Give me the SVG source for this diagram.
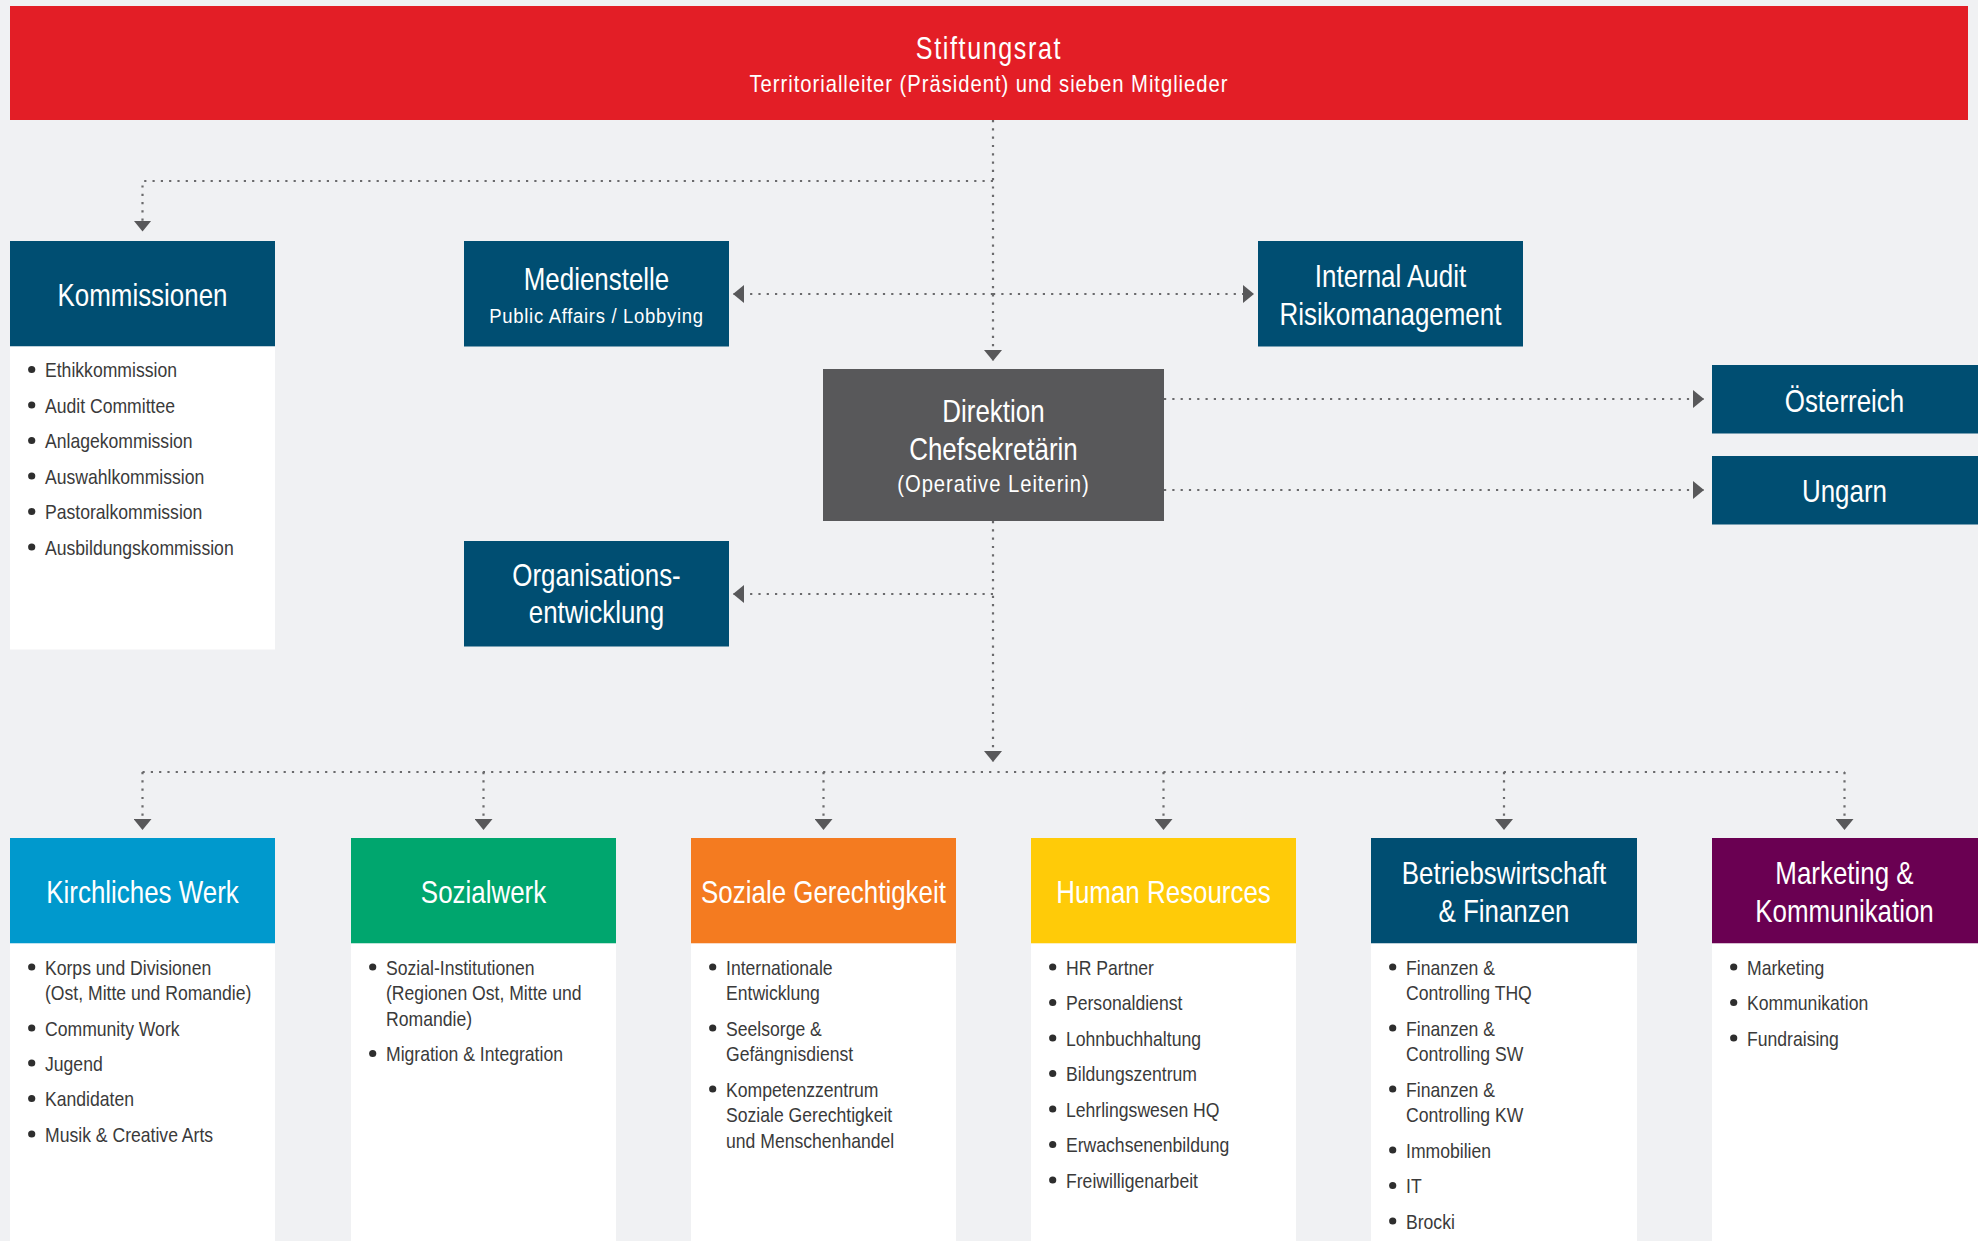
<svg xmlns="http://www.w3.org/2000/svg" width="1978" height="1241" viewBox="0 0 1978 1241">
<defs>
<style>
text{font-family:"Liberation Sans",Arial,sans-serif;}
.t{fill:#fff;font-size:32px;text-anchor:middle;}
.s{fill:#fff;font-size:23px;text-anchor:middle;letter-spacing:1.1px;}
.li{fill:#3a3a3a;font-size:20px;}
.bu{fill:#2e2e2e;}
.c{fill:none;stroke:#6a6a6c;stroke-width:2.2;stroke-dasharray:2.2 6.1;}
.ca{fill:none;stroke:#6a6a6c;stroke-width:2.2;stroke-dasharray:2.2 6.1;marker-end:url(#ah);}
.navy{fill:#004E72;}
.white{fill:#fff;}
</style>
<marker id="ah" markerUnits="userSpaceOnUse" viewBox="0 0 11 18" markerWidth="11" markerHeight="18" refX="11" refY="9" orient="auto">
<path d="M0,0 L11,9 L0,18 Z" fill="#58585A"/>
</marker>
</defs>
<rect x="0" y="0" width="1978" height="1241" fill="#F0F1F3"/>

<g id="connectors">
<path class="ca" d="M993,120 V361"/>
<path class="ca" d="M993,181 H142.5 V231.5"/>
<path class="ca" d="M993,294 H733"/>
<path class="ca" d="M993,294 H1254"/>
<path class="ca" d="M1164,399 H1704"/>
<path class="ca" d="M1164,490 H1704"/>
<path class="ca" d="M993,521 V762"/>
<path class="ca" d="M993,594 H733"/>
<path class="c" d="M142.5,772 H1844.5"/>
<path class="ca" d="M142.5,772 V830"/>
<path class="ca" d="M483.5,772 V830"/>
<path class="ca" d="M823.5,772 V830"/>
<path class="ca" d="M1163.5,772 V830"/>
<path class="ca" d="M1504,772 V830"/>
<path class="ca" d="M1844.5,772 V830"/>
</g>

<g id="stiftungsrat">
<rect x="10" y="6" width="1958" height="114" fill="#E31E26"/>
<g transform="matrix(0.81,0,0,1,187.91,0)"><text class="t" x="989" y="59" style="font-size:31px;letter-spacing:2px">Stiftungsrat</text></g>
<g transform="matrix(0.88,0,0,1,118.68,0)"><text class="s" x="989" y="92">Territorialleiter (Präsident) und sieben Mitglieder</text></g>
</g>

<g id="kommissionen">
<rect x="10" y="241" width="265" height="105.5" class="navy"/>
<rect x="10" y="346.5" width="265" height="303" class="white"/>
<g transform="matrix(0.81,0,0,1,27.075,0)"><text class="t" x="142.5" y="306.5">Kommissionen</text></g>
<circle class="bu" cx="31.7" cy="369.5" r="3.6"/>
<circle class="bu" cx="31.7" cy="405" r="3.6"/>
<circle class="bu" cx="31.7" cy="440.5" r="3.6"/>
<circle class="bu" cx="31.7" cy="476" r="3.6"/>
<circle class="bu" cx="31.7" cy="511.5" r="3.6"/>
<circle class="bu" cx="31.7" cy="547" r="3.6"/>
<g transform="matrix(0.88,0,0,1,5.4,0)">
<text class="li" x="45" y="377.5">Ethikkommission</text>
<text class="li" x="45" y="413">Audit Committee</text>
<text class="li" x="45" y="448.5">Anlagekommission</text>
<text class="li" x="45" y="484">Auswahlkommission</text>
<text class="li" x="45" y="519.5">Pastoralkommission</text>
<text class="li" x="45" y="555">Ausbildungskommission</text>
</g>
</g>

<g id="medienstelle">
<rect x="464" y="241" width="265" height="105.5" class="navy"/>
<g transform="matrix(0.81,0,0,1,113.335,0)"><text class="t" x="596.5" y="290.5">Medienstelle</text></g>
<g transform="matrix(0.88,0,0,1,71.58,0)"><text class="s" x="596.5" y="323" style="font-size:21px;letter-spacing:0.8px">Public Affairs / Lobbying</text></g>
</g>

<g id="internal-audit">
<rect x="1258" y="241" width="265" height="105.5" class="navy"/>
<g transform="matrix(0.81,0,0,1,264.195,0)">
<text class="t" x="1390.5" y="287.5">Internal Audit</text>
<text class="t" x="1390.5" y="325.5">Risikomanagement</text>
</g>
</g>

<g id="direktion">
<rect x="823" y="369" width="341" height="152" fill="#58585A"/>
<g transform="matrix(0.81,0,0,1,188.765,0)">
<text class="t" x="993.5" y="422">Direktion</text>
<text class="t" x="993.5" y="460">Chefsekretärin</text>
</g>
<g transform="matrix(0.88,0,0,1,119.22,0)"><text class="s" x="993.5" y="492.5">(Operative Leiterin)</text></g>
</g>

<g id="oesterreich">
<rect x="1712" y="365" width="266" height="68.5" class="navy"/>
<g transform="matrix(0.81,0,0,1,350.455,0)"><text class="t" x="1844.5" y="412.5">Österreich</text></g>
</g>

<g id="ungarn">
<rect x="1712" y="456" width="266" height="68.5" class="navy"/>
<g transform="matrix(0.81,0,0,1,350.455,0)"><text class="t" x="1844.5" y="502">Ungarn</text></g>
</g>

<g id="organisationsentwicklung">
<rect x="464" y="541" width="265" height="105.5" class="navy"/>
<g transform="matrix(0.81,0,0,1,113.335,0)">
<text class="t" x="596.5" y="586.5">Organisations-</text>
<text class="t" x="596.5" y="623">entwicklung</text>
</g>
</g>

<g id="kirchliches-werk">
<rect x="10" y="838" width="265" height="105.5" fill="#0099CD"/>
<rect x="10" y="943.5" width="265" height="297.5" class="white"/>
<g transform="matrix(0.81,0,0,1,27.075,0)"><text class="t" x="142.5" y="903.5">Kirchliches Werk</text></g>
<circle class="bu" cx="31.7" cy="967" r="3.6"/>
<circle class="bu" cx="31.7" cy="1028" r="3.6"/>
<circle class="bu" cx="31.7" cy="1063" r="3.6"/>
<circle class="bu" cx="31.7" cy="1098.5" r="3.6"/>
<circle class="bu" cx="31.7" cy="1134" r="3.6"/>
<g transform="matrix(0.88,0,0,1,5.4,0)">
<text class="li" x="45" y="975">Korps und Divisionen</text>
<text class="li" x="45" y="1000.5">(Ost, Mitte und Romandie)</text>
<text class="li" x="45" y="1036">Community Work</text>
<text class="li" x="45" y="1071">Jugend</text>
<text class="li" x="45" y="1106.5">Kandidaten</text>
<text class="li" x="45" y="1142">Musik &amp; Creative Arts</text>
</g>
</g>

<g id="sozialwerk">
<rect x="351" y="838" width="265" height="105.5" fill="#00A66E"/>
<rect x="351" y="943.5" width="265" height="297.5" class="white"/>
<g transform="matrix(0.81,0,0,1,91.865,0)"><text class="t" x="483.5" y="903.5">Sozialwerk</text></g>
<circle class="bu" cx="372.7" cy="967" r="3.6"/>
<circle class="bu" cx="372.7" cy="1053.5" r="3.6"/>
<g transform="matrix(0.88,0,0,1,46.32,0)">
<text class="li" x="386" y="975">Sozial-Institutionen</text>
<text class="li" x="386" y="1000.5">(Regionen Ost, Mitte und</text>
<text class="li" x="386" y="1026">Romandie)</text>
<text class="li" x="386" y="1061.5">Migration &amp; Integration</text>
</g>
</g>

<g id="soziale-gerechtigkeit">
<rect x="691" y="838" width="265" height="105.5" fill="#F47B20"/>
<rect x="691" y="943.5" width="265" height="297.5" class="white"/>
<g transform="matrix(0.81,0,0,1,156.465,0)"><text class="t" x="823.5" y="903.5">Soziale Gerechtigkeit</text></g>
<circle class="bu" cx="712.7" cy="967" r="3.6"/>
<circle class="bu" cx="712.7" cy="1028" r="3.6"/>
<circle class="bu" cx="712.7" cy="1089" r="3.6"/>
<g transform="matrix(0.88,0,0,1,87.12,0)">
<text class="li" x="726" y="975">Internationale</text>
<text class="li" x="726" y="1000.5">Entwicklung</text>
<text class="li" x="726" y="1036">Seelsorge &amp;</text>
<text class="li" x="726" y="1061.5">Gefängnisdienst</text>
<text class="li" x="726" y="1097">Kompetenzzentrum</text>
<text class="li" x="726" y="1122.5">Soziale Gerechtigkeit</text>
<text class="li" x="726" y="1148">und Menschenhandel</text>
</g>
</g>

<g id="human-resources">
<rect x="1031" y="838" width="265" height="105.5" fill="#FFCB08"/>
<rect x="1031" y="943.5" width="265" height="297.5" class="white"/>
<g transform="matrix(0.81,0,0,1,221.065,0)"><text class="t" x="1163.5" y="903.5">Human Resources</text></g>
<circle class="bu" cx="1052.7" cy="967" r="3.6"/>
<circle class="bu" cx="1052.7" cy="1002.5" r="3.6"/>
<circle class="bu" cx="1052.7" cy="1038" r="3.6"/>
<circle class="bu" cx="1052.7" cy="1073.5" r="3.6"/>
<circle class="bu" cx="1052.7" cy="1109" r="3.6"/>
<circle class="bu" cx="1052.7" cy="1144.5" r="3.6"/>
<circle class="bu" cx="1052.7" cy="1180" r="3.6"/>
<g transform="matrix(0.88,0,0,1,127.92,0)">
<text class="li" x="1066" y="975">HR Partner</text>
<text class="li" x="1066" y="1010.5">Personaldienst</text>
<text class="li" x="1066" y="1046">Lohnbuchhaltung</text>
<text class="li" x="1066" y="1081.5">Bildungszentrum</text>
<text class="li" x="1066" y="1117">Lehrlingswesen HQ</text>
<text class="li" x="1066" y="1152.5">Erwachsenenbildung</text>
<text class="li" x="1066" y="1188">Freiwilligenarbeit</text>
</g>
</g>

<g id="betriebswirtschaft">
<rect x="1371" y="838" width="266" height="105.5" class="navy"/>
<rect x="1371" y="943.5" width="266" height="297.5" class="white"/>
<g transform="matrix(0.81,0,0,1,285.76,0)">
<text class="t" x="1504" y="884">Betriebswirtschaft</text>
<text class="t" x="1504" y="922.5">&amp; Finanzen</text>
</g>
<circle class="bu" cx="1392.7" cy="967" r="3.6"/>
<circle class="bu" cx="1392.7" cy="1028" r="3.6"/>
<circle class="bu" cx="1392.7" cy="1089" r="3.6"/>
<circle class="bu" cx="1392.7" cy="1150" r="3.6"/>
<circle class="bu" cx="1392.7" cy="1185.5" r="3.6"/>
<circle class="bu" cx="1392.7" cy="1221" r="3.6"/>
<g transform="matrix(0.88,0,0,1,168.72,0)">
<text class="li" x="1406" y="975">Finanzen &amp;</text>
<text class="li" x="1406" y="1000.5">Controlling THQ</text>
<text class="li" x="1406" y="1036">Finanzen &amp;</text>
<text class="li" x="1406" y="1061.5">Controlling SW</text>
<text class="li" x="1406" y="1097">Finanzen &amp;</text>
<text class="li" x="1406" y="1122.5">Controlling KW</text>
<text class="li" x="1406" y="1158">Immobilien</text>
<text class="li" x="1406" y="1193.5">IT</text>
<text class="li" x="1406" y="1229">Brocki</text>
</g>
</g>

<g id="marketing">
<rect x="1712" y="838" width="266" height="105.5" fill="#6A0052"/>
<rect x="1712" y="943.5" width="266" height="297.5" class="white"/>
<g transform="matrix(0.81,0,0,1,350.455,0)">
<text class="t" x="1844.5" y="884">Marketing &amp;</text>
<text class="t" x="1844.5" y="922.5">Kommunikation</text>
</g>
<circle class="bu" cx="1733.7" cy="967" r="3.6"/>
<circle class="bu" cx="1733.7" cy="1002.5" r="3.6"/>
<circle class="bu" cx="1733.7" cy="1038" r="3.6"/>
<g transform="matrix(0.88,0,0,1,209.64,0)">
<text class="li" x="1747" y="975">Marketing</text>
<text class="li" x="1747" y="1010.5">Kommunikation</text>
<text class="li" x="1747" y="1046">Fundraising</text>
</g>
</g>
</svg>
